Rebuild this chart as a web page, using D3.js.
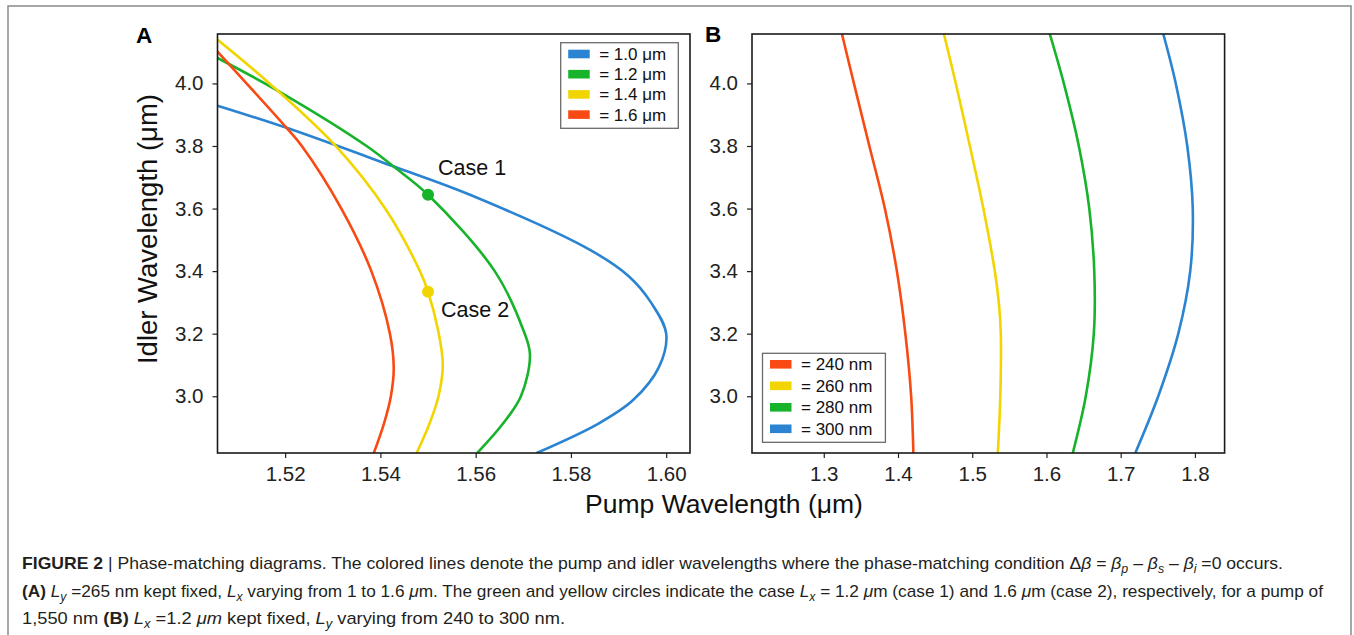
<!DOCTYPE html>
<html>
<head>
<meta charset="utf-8">
<script src="https://cdn.jsdelivr.net/npm/d3@7"></script>
<style>
  body { margin: 0; background: #fff; }
  text { font-family: Arial, "Liberation Sans", sans-serif; }
</style>
</head>
<body>
<div id="viz"></div>
<script>
// panel A : Ly = 265 nm fixed, Lx varies. pairs are [pump, idler] in um
const lxLabels = ['= 1.0 μm', '= 1.2 μm', '= 1.4 μm', '= 1.6 μm'];
const lx10 = [[1.5058,3.929],[1.5203,3.858],[1.5427,3.735],[1.5588,3.644],[1.5840,3.468],[1.5922,3.383],
  [1.5968,3.300],[1.6000,3.200],[1.5985,3.094],[1.5930,2.987],[1.5857,2.912],[1.5727,2.818]];
const lx12 = [[1.5057,4.082],[1.5192,3.970],[1.5371,3.800],[1.5427,3.735],[1.5500,3.644],[1.5640,3.400],
  [1.5700,3.212],[1.5714,3.133],[1.5695,3.000],[1.5657,2.912],[1.5603,2.818]];
const lx14 = [[1.5057,4.141],[1.5167,4.000],[1.5306,3.800],[1.5410,3.600],[1.5483,3.400],[1.5500,3.334],
  [1.5521,3.212],[1.5531,3.100],[1.5522,3.000],[1.5503,2.912],[1.5476,2.818]];
const lx16 = [[1.5057,4.1035],[1.5203,3.858],[1.5235,3.800],[1.5318,3.600],[1.5381,3.400],[1.5420,3.200],
  [1.5428,3.090],[1.5422,3.000],[1.5407,2.910],[1.5386,2.818]];
// the two marked cases, pump 1.55 um
const cases = [['Case 1', 1.55, 3.644], ['Case 2', 1.55, 3.334]];

// panel B : Lx = 1.2 um fixed, Ly varies
const lyLabels = ['= 240 nm', '= 260 nm', '= 280 nm', '= 300 nm'];
const ly240 = [[1.3245,4.158],[1.3406,4.00],[1.3614,3.80],[1.3823,3.60],[1.3985,3.40],[1.4099,3.20],[1.4177,3.00],[1.4207,2.8186]];
const ly260 = [[1.4618,4.158],[1.4779,4.00],[1.4968,3.80],[1.5150,3.60],[1.5304,3.40],[1.5358,3.30],[1.5385,3.20],[1.5378,3.00],[1.5345,2.8186]];
const ly280 = [[1.6045,4.158],[1.6234,4.00],[1.6436,3.80],[1.6577,3.60],[1.6644,3.40],[1.6638,3.20],[1.6530,3.00],[1.6355,2.8186]];
const ly300 = [[1.7574,4.158],[1.7742,4.00],[1.7897,3.80],[1.7971,3.60],[1.7937,3.40],[1.7776,3.20],[1.7506,3.00],[1.7197,2.8186]];

const xTicksA = [1.52, 1.54, 1.56, 1.58, 1.60];
const xTicksB = [1.3, 1.4, 1.5, 1.6, 1.7, 1.8];
const yTicks = [3.0, 3.2, 3.4, 3.6, 3.8, 4.0];

const blue = '#2a84d2', green = '#17b32a', yellow = '#f2d500', red = '#f84a12';

let svg = d3.select('#viz').append('svg')
  .attr('width', 1354).attr('height', 635);

// outer frame
svg.append('rect').attr('x', 8).attr('y', 6).attr('width', 1343).attr('height', 660)
  .attr('fill', 'none').attr('stroke', '#8a8a8a').attr('stroke-width', 1.5);

let plotTop = 34, plotBottom = 453;
let y = d3.scaleLinear().domain([2.8186, 4.158]).range([plotBottom, plotTop]);
let xA = d3.scaleLinear().domain([1.5058, 1.605]).range([217.5, 690]);
let xB = d3.scaleLinear().domain([1.2033, 1.84]).range([752, 1224.6]);

function drawPanel(id, x, xTicks, fmt, series, colors) {
  let g = svg.append('g');
  let x0 = x.range()[0], x1 = x.range()[1];

  svg.append('clipPath').attr('id', 'clip' + id)
    .append('rect').attr('x', x0).attr('y', plotTop).attr('width', x1 - x0).attr('height', plotBottom - plotTop);

  let line = d3.line()
    .x(d => x(d[0])).y(d => y(d[1]))
    .curve(d3.curveCatmullRom.alpha(0.5));

  g.append('g').attr('clip-path', 'url(#clip' + id + ')')
    .selectAll('path').data(series).enter().append('path')
    .attr('d', line)
    .attr('fill', 'none')
    .attr('stroke', (d, i) => colors[i])
    .attr('stroke-width', 2.6);

  let ax = g.append('g').attr('transform', 'translate(0,' + plotBottom + ')')
    .call(d3.axisBottom(x).tickValues(xTicks).tickFormat(d3.format(fmt)).tickSize(5).tickPadding(8));
  let ay = g.append('g').attr('transform', 'translate(' + x0 + ',0)')
    .call(d3.axisLeft(y).tickValues(yTicks).tickFormat(d3.format('.1f')).tickSize(5).tickPadding(9));
  [ax, ay].forEach(a => {
    a.select('.domain').remove();
    a.selectAll('line').attr('stroke', '#222').attr('stroke-width', 1.2);
    a.selectAll('text').attr('font-size', 20.5).attr('fill', '#222')
      .style('font-family', 'Arial, "Liberation Sans", sans-serif');
  });

  g.append('rect').attr('x', x0).attr('y', plotTop).attr('width', x1 - x0).attr('height', plotBottom - plotTop)
    .attr('fill', 'none').attr('stroke', '#1a1a1a').attr('stroke-width', 1.6);
  return g;
}

let gA = drawPanel('A', xA, xTicksA, '.2f', [lx10, lx12, lx14, lx16], [blue, green, yellow, red]);
let gB = drawPanel('B', xB, xTicksB, '.1f', [ly240, ly260, ly280, ly300], [red, yellow, green, blue]);

// case markers
let caseOffset = [[10, -20], [13, 25]];
gA.selectAll('.dot').data(cases).enter().append('circle')
  .attr('cx', d => xA(d[1])).attr('cy', d => y(d[2])).attr('r', 6)
  .attr('fill', (d, i) => i == 0 ? green : yellow);
gA.selectAll('.case').data(cases).enter().append('text')
  .attr('x', (d, i) => xA(d[1]) + caseOffset[i][0])
  .attr('y', (d, i) => y(d[2]) + caseOffset[i][1])
  .attr('font-size', 21.5).attr('fill', '#111')
  .text(d => d[0]);

// legends
function legend(x0, y0, w, h, rowStart, step, labels, colors) {
  let lg = svg.append('g');
  lg.append('rect').attr('x', x0).attr('y', y0).attr('width', w).attr('height', h)
    .attr('fill', '#fff').attr('stroke', '#6a6a6a').attr('stroke-width', 1.3);
  labels.forEach(function(t, i) {
    let cy = rowStart + i * step;
    lg.append('rect').attr('x', x0 + 7.5).attr('y', cy - 4.3).attr('width', 21.5).attr('height', 8.6)
      .attr('fill', colors[i]);
    lg.append('text').attr('x', x0 + 38.5).attr('y', cy + 6).attr('font-size', 17).attr('fill', '#111').text(t);
  });
}
legend(560.7, 42.7, 117.6, 85.6, 54, 20.2, lxLabels, [blue, green, yellow, red]);
legend(762.5, 353.3, 122.9, 89, 364.3, 21.5, lyLabels, [red, yellow, green, blue]);

// panel letters and axis titles
svg.append('text').attr('x', 136).attr('y', 42.7).attr('font-size', 22.5).attr('font-weight', 'bold').text('A');
svg.append('text').attr('x', 705).attr('y', 42.3).attr('font-size', 22.5).attr('font-weight', 'bold').text('B');
svg.append('text').attr('x', 724).attr('y', 513).attr('font-size', 26.5).attr('text-anchor', 'middle')
  .attr('fill', '#111').text('Pump Wavelength (μm)');
svg.append('text').attr('transform', 'translate(157,229) rotate(-90)').attr('font-size', 27.5)
  .attr('text-anchor', 'middle').attr('fill', '#111').text('Idler Wavelength (μm)');

// caption, b = bold, i = italic, s = italic subscript
const caption = [
  [['FIGURE 2', 'b'], [' | ', ''], ['Phase-matching diagrams. The colored lines denote the pump and idler wavelengths where the phase-matching condition Δ', ''],
   ['β', 'i'], [' = ', ''], ['β', 'i'], ['p', 's'], [' – ', ''], ['β', 'i'], ['s', 's'], [' – ', ''], ['β', 'i'], ['i', 's'], [' =0 occurs.', '']],
  [['(A)', 'b'], [' ', ''], ['L', 'i'], ['y', 's'], [' =265 nm kept fixed, ', ''], ['L', 'i'], ['x', 's'], [' varying from 1 to 1.6 ', ''], ['μ', 'i'],
   ['m. The green and yellow circles indicate the case ', ''], ['L', 'i'], ['x', 's'], [' = 1.2 ', ''], ['μ', 'i'], ['m (case 1) and 1.6 ', ''],
   ['μ', 'i'], ['m (case 2), respectively, for a pump of', '']],
  [['1,550 nm ', ''], ['(B)', 'b'], [' ', ''], ['L', 'i'], ['x', 's'], [' =1.2 ', ''], ['μm', 'i'], [' kept fixed, ', ''], ['L', 'i'], ['y', 's'],
   [' varying from 240 to 300 nm.', '']]
];
const captionWidths = [1261, 1301, 543];

caption.forEach(function(segs, li) {
  let t = svg.append('text').attr('x', 22).attr('y', 569 + li * 27.5)
    .attr('font-size', 17).attr('fill', '#231f20')
    .attr('textLength', captionWidths[li]).attr('lengthAdjust', 'spacingAndGlyphs')
    .style('font-family', '"Liberation Sans Narrow", "Arial Narrow", Arial, sans-serif');
  let low = false;
  segs.forEach(function(s) {
    let sp = t.append('tspan').text(s[0]);
    if (s[1] == 'b') sp.attr('font-weight', 'bold');
    if (s[1] == 'i' || s[1] == 's') sp.attr('font-style', 'italic');
    if (s[1] == 's') { sp.attr('font-size', 12).attr('dy', low ? 0 : 4); low = true; }
    else if (low) { sp.attr('dy', -4); low = false; }
  });
});
</script>
</body>
</html>
